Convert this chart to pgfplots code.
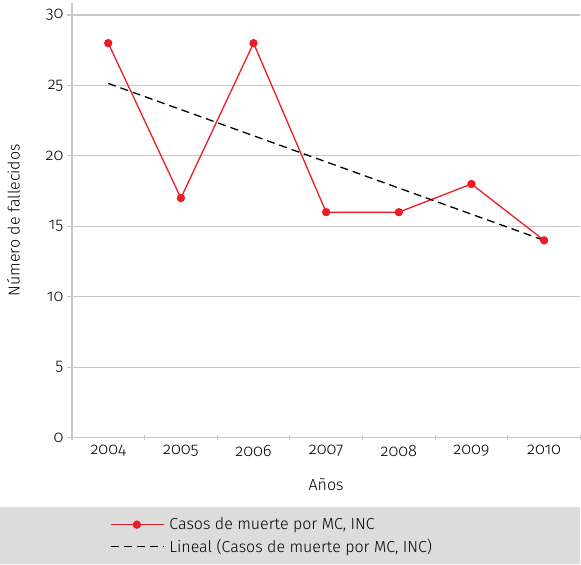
\documentclass[border=0pt]{standalone}
\usepackage{pgfplots}
\pgfplotsset{compat=1.18}
\usepackage{fontspec}
\setmainfont{Fira Sans Light}[Numbers=OldStyle]
\definecolor{gridc}{RGB}{200,200,200}
\definecolor{redc}{RGB}{237,28,36}
\definecolor{legbg}{RGB}{220,220,221}
\begin{document}
\begin{tikzpicture}
\path[fill=legbg] (-72bp,-127bp) rectangle (509bp,-70bp);
\path (-72bp,-127bp) rectangle (509bp,438bp);
\begin{axis}[
  at={(0,0)}, anchor=south west,
  scale only axis, width=509bp, height=435bp,
  xmin=-0.5, xmax=6.5, ymin=0, ymax=30.85,
  xtick={0,...,6}, xticklabels={2004,2005,2006,2007,2008,2009,2010},
  major x tick style={draw=none},
  minor xtick={-0.5,0.5,...,6.5},
  minor x tick style={gridc, line width=1.2bp},
  minor tick length=5bp,
  xtick align=center,
  ytick={0,5,...,30},
  ytick align=outside, major tick length=5bp,
  y tick style={gridc, line width=1.2bp},
  tick pos=left,
  ymajorgrids, grid style={gridc, line width=1.2bp},
  axis x line*=bottom, axis y line*=left,
  axis line style={gridc, line width=1.2bp, -},
  /pgf/number format/assume math mode=true,
  tick label style={font=\fontsize{16.5bp}{18bp}\selectfont, text=black},
  xticklabel style={yshift=-2bp},
  yticklabel style={xshift=0bp},
  xlabel={Años}, ylabel={Número de fallecidos},
  label style={font=\fontsize{16bp}{18bp}\selectfont},
  xlabel style={yshift=-15bp},
  ylabel style={yshift=19bp},
  legend style={at={(axis description cs:0.075,-0.18)}, anchor=north west, draw=none, fill=none,
    font=\fontsize{16bp}{18bp}\selectfont, row sep=4bp, inner sep=0pt,
    /tikz/every odd column/.append style={column sep=3bp}},
  legend cell align=left,
]
\addplot[redc, line width=1.3bp, mark=*, mark size=3.5bp, mark options={fill=redc, draw=redc},
  legend image code/.code={\draw[mark repeat=2,mark phase=2] plot coordinates {(0bp,0bp)(26bp,0bp)(53bp,0bp)};}]
  coordinates {(0,28)(1,17)(2,28)(3,16)(4,16)(5,18)(6,14)};
\addlegendentry{Casos de muerte por MC, INC}
\addplot[black, line width=1.3bp, dash pattern=on 8bp off 5bp,
  legend image code/.code={\draw (0bp,0bp) -- (53bp,0bp);}]
  coordinates {(0,25.14)(6,14.0)};
\addlegendentry{Lineal (Casos de muerte por MC, INC)}
\end{axis}
\end{tikzpicture}
\end{document}
